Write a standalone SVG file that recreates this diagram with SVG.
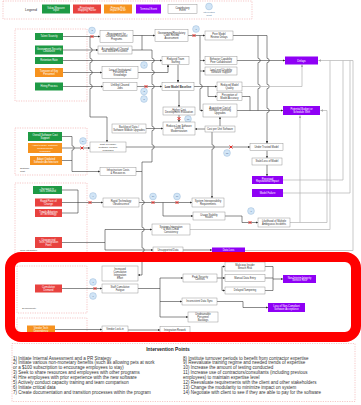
<svg xmlns="http://www.w3.org/2000/svg" xmlns:xlink="http://www.w3.org/1999/xlink" width="361" height="405" viewBox="0 0 361 405">
<style>
  .bx{fill:#fff;stroke:#8c8c8c;stroke-width:.45}
  .g{fill:#1e9a45}
  .r{fill:#e8423f}
  .o{fill:#f6921e}
  .p{fill:#8f00f5}
  .t{font-family:"Liberation Sans",Arial,sans-serif;font-size:2.6px;fill:#333;text-anchor:middle}
  .tw{font-family:"Liberation Sans",Arial,sans-serif;font-size:2.6px;fill:#fff;text-anchor:middle}
  .gl{font-family:"Liberation Sans",Arial,sans-serif;font-size:2.4px;fill:#444}
  .grp{fill:none;stroke:#f0a3a3;stroke-width:.6;stroke-dasharray:1.2 1.2}
  .ln{fill:none;stroke:#2b2b2b;stroke-width:.55}
  .lg{fill:none;stroke:#b3b3b3;stroke-width:.7}
  .a{marker-end:url(#ah)}
  .ag{marker-end:url(#ahg)}
  .ipn{font-family:"Liberation Sans",Arial,sans-serif;font-size:2.2px;fill:#44698f;text-anchor:middle}
  .it{font-family:"Liberation Sans",Arial,sans-serif;font-size:4.5px;fill:#333}
</style>
<defs>
  <marker id="ah" viewBox="0 0 6 6" refX="5.5" refY="3" markerWidth="2.6" markerHeight="2.6" markerUnits="userSpaceOnUse" orient="auto"><path d="M0,0.4L6,3L0,5.6z" fill="#2b2b2b"/></marker>
  <marker id="ahg" viewBox="0 0 6 6" refX="5.5" refY="3" markerWidth="2.8" markerHeight="2.8" markerUnits="userSpaceOnUse" orient="auto"><path d="M0,0.4L6,3L0,5.6z" fill="#a8a8a8"/></marker>
  <g id="rx"><path d="M-1.5,-1.5L1.5,1.5M1.5,-1.5L-1.5,1.5" stroke="#e3211c" stroke-width=".9" fill="none"/></g>
  <circle id="ipc" r="3.4" fill="#d2e5f6" stroke="#8db1d4" stroke-width=".4"/>
</defs>
<rect width="361" height="405" fill="#fff"/>

<!-- legend -->
<g id="legend">
  <rect class="grp" x="3" y="1" width="249" height="18"/>
  <text x="25" y="10.5" style="font-family:'Liberation Sans',Arial,sans-serif;font-size:3.6px;fill:#333">Legend</text>
  <rect class="g" x="42" y="4.5" width="28" height="9"/>
  <text class="tw"><tspan x="56" y="8.5">Value Measure</tspan><tspan x="56" y="11.3">Input</tspan></text>
  <rect class="r" x="73" y="4.5" width="28" height="9"/>
  <text class="tw"><tspan x="87" y="8.5">Prioritization</tspan><tspan x="87" y="11.3">Mapping Factor</tspan></text>
  <rect class="o" x="104" y="4.5" width="28" height="9"/>
  <text class="tw"><tspan x="118" y="8.5">Primary Risk</tspan><tspan x="118" y="11.3">Impact Factor</tspan></text>
  <rect class="p" x="136" y="4.5" width="25" height="9"/>
  <text class="tw" x="148.5" y="9.9">Terminal Event</text>
  <rect class="bx" x="168" y="4.5" width="29" height="9"/>
  <text class="t"><tspan x="182.5" y="8.5">Contributory</tspan><tspan x="182.5" y="11.3">Event</tspan></text>
  <use xlink:href="#ipc" x="209" y="6.5"/>
  <text class="ipn"><tspan x="209" y="13.4">Intervention</tspan><tspan x="209" y="15.9">Point</tspan></text>
</g>

<!-- groupings -->
<g id="groups">
  <rect class="grp" x="15" y="29" width="72" height="72"/>
  <rect class="grp" x="15" y="128" width="72" height="47"/>
  <text class="gl"><tspan x="20" y="169">Software</tspan><tspan x="20" y="171.8">Cost</tspan></text>
  <rect class="grp" x="15" y="183" width="72" height="72"/>
  <text class="gl" x="20" y="251">Tech Integration</text>
  <rect class="grp" x="17" y="266" width="70" height="47"/>
  <text class="gl" x="22" y="308.5">Synchronicity</text>
  <rect class="grp" x="17" y="318" width="70" height="20"/>
</g>

<!-- connectors -->
<g id="connectors">
  <path class="ln a" d="M63,36.5H100"/>
  <path class="ln a" d="M90,36.5V47.8A2.2 2.2 0 0 1 90,52.2V58.3A2.2 2.2 0 0 1 90,62.7V70.3A2.2 2.2 0 0 1 90,74.7V84.3A2.2 2.2 0 0 1 90,88.7V117H107V142"/>
  <path class="ln a" d="M63,50H98"/>
  <path class="ln a" d="M63,60.5H162"/>
  <path class="ln a" d="M63,72.5H102"/>
  <path class="ln a" d="M63,86.5H103"/>
  <path class="ln a" d="M133,35.5H155"/>
  <path class="ln" d="M132,50H142V35.5"/>
  <path class="ln a" d="M142,50H152V58.3A2.2 2.2 0 0 1 152,62.7V70.3A2.2 2.2 0 0 1 152,74.7V84.3A2.2 2.2 0 0 1 152,88.7V126.3A2.2 2.2 0 0 1 152,130.7V144.8A2.2 2.2 0 0 1 152,149.2V162H142V200.3A2.2 2.2 0 0 1 142,204.7V227.3A2.2 2.2 0 0 1 142,231.7V247.8A2.2 2.2 0 0 1 142,252.2V275H138"/>
  <path class="ln a" d="M138,72.5H168V64.5"/>
  <path class="ln a" d="M137,86.5H162"/>
  <path class="ln a" d="M188,35.5H205"/>
  <path class="ln a" d="M200,35.5V58.3V84.3A2.2 2.2 0 0 1 200,88.7V110.5H203"/>
  <path class="ln a" d="M200,60.5H205"/>
  <path class="ln a" d="M200,71H205"/>
  <path class="ln a" d="M178,64.5V82.5"/>
  <path class="ln a" d="M237,60.5H285"/>
  <path class="ln" d="M258,35.5V58.3A2.2 2.2 0 0 1 258,62.7V84.3A2.2 2.2 0 0 1 258,88.7V110.5"/>
  <path class="ln a" d="M233,35.5H267V58.3A2.2 2.2 0 0 1 267,62.7V84.3A2.2 2.2 0 0 1 267,88.7V108.3A2.2 2.2 0 0 1 267,112.7V143.5"/>
  <path class="ln a" d="M194,86.5H217"/>
  <path class="ln a" d="M208,86.5V96.5H217"/>
  <path class="ln" d="M242,96.5H250V110.5"/>
  <path class="lg ag" d="M242,86.5H302V64.5"/>
  <path class="ln a" d="M179,90.5V107"/>
  <path class="ln a" d="M179,115V122"/>
  <path class="ln a" d="M205,129H195"/>
  <path class="ln a" d="M220,126V117"/>
  <path class="ln a" d="M237,110.5H283"/>
  <path class="ln a" d="M146,128.5H163"/>
  <path class="ln a" d="M126,147H250"/>
  <path class="ln a" d="M212,132V144.8A2.2 2.2 0 0 1 212,149.2V198"/>
  <path class="ln a" d="M267,150.5V158"/>
  <path class="ln a" d="M267,165V176"/>
  <path class="ln a" d="M62,136.5H72V145.8A2.2 2.2 0 0 1 72,150.2V171.5H100"/>
  <path class="ln a" d="M62,148H90"/>
  <path class="ln" d="M62,160.5H72"/>
  <path class="ln" d="M136,171.5H142"/>
  <path class="ln" d="M62,190H78V202.5"/>
  <path class="ln" d="M62,213H78V202.5"/>
  <path class="ln a" d="M62,202.5H103"/>
  <path class="ln a" d="M139,202.5H192"/>
  <path class="ln a" d="M163,202.5V216H193"/>
  <path class="ln a" d="M62,242.5H105V229.5H152"/>
  <path class="ln a" d="M105,242.5V250H153"/>
  <path class="ln a" d="M183,250H212"/>
  <path class="ln a" d="M225,216H242V222.5H258"/>
  <path class="lg ag" d="M300,222.5V115.5"/>
  <path class="lg ag" d="M290,222.5H327V110.5H320.5"/>
  <path class="lg ag" d="M190,229.5H330V60.5H318.5"/>
  <path class="lg" d="M283,180H343V60.5"/>
  <path class="lg" d="M283,193H350V60.5"/>
  <path class="lg" d="M245,250.5H353V60.5H330"/>
  <path class="ln a" d="M62,288.5H102"/>
  <path class="ln" d="M138,288.5H160"/>
  <path class="ln a" d="M160,278V317H188"/>
  <path class="ln a" d="M160,278H183"/>
  <path class="ln a" d="M160,301.5H182"/>
  <path class="ln a" d="M217,278H222V266.5H225"/>
  <path class="ln a" d="M222,278H225"/>
  <path class="ln a" d="M222,278V290.5H225"/>
  <path class="ln" d="M265,266.5H273V290.5H265M265,278H273"/>
  <path class="ln a" d="M273,279H283"/>
  <path class="ln a" d="M217,301.5H243V307.5H268"/>
  <path class="ln a" d="M55,329.5H102"/>
  <path class="ln a" d="M128,330H160"/>
</g>

<!-- blocked links and intervention points -->
<g id="markers">
  <use xlink:href="#rx" x="92" y="36.5"/>
  <use xlink:href="#rx" x="194" y="35.5"/>
  <use xlink:href="#rx" x="146" y="86.5"/>
  <use xlink:href="#rx" x="179" y="118.5"/>
  <use xlink:href="#rx" x="231" y="147"/>
  <use xlink:href="#rx" x="82" y="148"/>
  <use xlink:href="#rx" x="90" y="202.5"/>
  <use xlink:href="#rx" x="153" y="202.5"/>
  <use xlink:href="#rx" x="177" y="202.5"/>
  <use xlink:href="#rx" x="250" y="222.5"/>
  <use xlink:href="#rx" x="95" y="288.5"/>
  <use xlink:href="#ipc" x="92" y="30.5"/><text class="ipn" x="92" y="31.3">2</text>
  <use xlink:href="#ipc" x="196" y="29"/><text class="ipn" x="196" y="29.8">1</text>
  <use xlink:href="#ipc" x="144" y="65"/><text class="ipn" x="144" y="65.8">4</text>
  <use xlink:href="#ipc" x="144" y="91.5"/><text class="ipn" x="144" y="92.3">3</text>
  <use xlink:href="#ipc" x="144" y="99"/><text class="ipn" x="144" y="99.8">5</text>
  <use xlink:href="#ipc" x="188" y="119"/><text class="ipn" x="188" y="119.8">12</text>
  <use xlink:href="#ipc" x="227" y="153"/><text class="ipn" x="227" y="153.8">13</text>
  <use xlink:href="#ipc" x="83" y="141"/><text class="ipn" x="83" y="141.8">14</text>
  <use xlink:href="#ipc" x="93" y="196"/><text class="ipn" x="93" y="196.8">9</text>
  <use xlink:href="#ipc" x="153" y="196.5"/><text class="ipn" x="153" y="197.3">10</text>
  <use xlink:href="#ipc" x="177" y="196.5"/><text class="ipn" x="177" y="197.3">11</text>
  <use xlink:href="#ipc" x="251" y="211"/><text class="ipn" x="251" y="211.8">8</text>
  <use xlink:href="#ipc" x="93" y="282"/><text class="ipn" x="93" y="282.8">7</text>
  <use xlink:href="#ipc" x="93" y="296"/><text class="ipn" x="93" y="296.8">6</text>
</g>

<!-- nodes -->
<g id="talent-scarcity"><rect class="g" x="35" y="33" width="28" height="7"/><text class="tw" x="49" y="37.4">Talent Scarcity</text></g>
<g id="security-clearance"><rect class="g" x="35" y="45.5" width="28" height="9"/><text class="tw"><tspan x="49" y="49.5">Government Security</tspan><tspan x="49" y="52.3">Clearance</tspan></text></g>
<g id="retention-rate"><rect class="g" x="35" y="57" width="28" height="7"/><text class="tw" x="49" y="61.4">Retention Rate</text></g>
<g id="turnover"><rect class="o" x="35" y="68" width="28" height="9"/><text class="tw"><tspan x="49" y="72">Turnover of Key</tspan><tspan x="49" y="74.8">Personnel</tspan></text></g>
<g id="hiring-process"><rect class="g" x="35" y="82.5" width="28" height="8"/><text class="tw" x="49" y="87.4">Hiring Process</text></g>

<g id="cleared-requirement"><rect class="bx" x="100" y="30.5" width="33" height="12"/><text class="t"><tspan x="116.5" y="34.6">Requirement for</tspan><tspan x="116.5" y="37.4">Cleared Personnel</tspan><tspan x="116.5" y="40.2">Programs</tspan></text></g>
<g id="accessibility"><rect class="bx" x="98" y="46" width="34" height="8"/><text class="t"><tspan x="115" y="49.5">Accessibility of Cleared</tspan><tspan x="115" y="52.3">and Skilled Personnel</tspan></text></g>
<g id="knowledge-loss"><rect class="bx" x="102" y="66.5" width="36" height="12"/><text class="t"><tspan x="120" y="70.6">Loss of Institutional</tspan><tspan x="120" y="73.4">Personnel &amp;</tspan><tspan x="120" y="76.2">Knowledge</tspan></text></g>
<g id="unfilled-jobs"><rect class="bx" x="103" y="82.5" width="34" height="8"/><text class="t"><tspan x="120" y="86">Unfilled Cleared</tspan><tspan x="120" y="88.8">Jobs</tspan></text></g>
<g id="code-review"><rect class="bx" x="155" y="29.5" width="33" height="12"/><text class="t"><tspan x="171.5" y="33.6">Government/Regulatory</tspan><tspan x="171.5" y="36.4">Code Review</tspan><tspan x="171.5" y="39.2">Assessment</tspan></text></g>
<g id="peer-model"><rect class="bx" x="205" y="31" width="28" height="9"/><text class="t"><tspan x="219" y="35">Peer Model</tspan><tspan x="219" y="37.8">Review Delays</tspan></text></g>
<g id="reduced-team"><rect class="bx" x="162" y="56.5" width="27" height="8"/><text class="t"><tspan x="175.5" y="60">Reduced Team</tspan><tspan x="175.5" y="62.8">Staffing</tspan></text></g>
<g id="behavior-capability"><rect class="bx" x="205" y="56.5" width="32" height="8"/><text class="t"><tspan x="221" y="60">Behavior Capability</tspan><tspan x="221" y="62.8">Peer Collaboration</tspan></text></g>
<g id="low-usability"><rect class="bx" x="205" y="67" width="32" height="8"/><text class="t"><tspan x="221" y="70.5">Low Level Usability</tspan><tspan x="221" y="73.3">Software Support</tspan></text></g>
<g id="low-model-baseline"><rect class="bx" x="162" y="82.5" width="32" height="8"/><text class="t" x="178" y="87.5" style="font-weight:bold;font-size:2.8px">Low Model Baseline</text></g>
<g id="reduced-quality"><rect class="bx" x="217" y="82" width="25" height="9"/><text class="t"><tspan x="229.5" y="86">Reduced Model</tspan><tspan x="229.5" y="88.8">Quality</tspan></text></g>
<g id="perception"><rect class="bx" x="217" y="92.5" width="25" height="8"/><text class="t"><tspan x="229.5" y="96">Perception of</tspan><tspan x="229.5" y="98.8">Model Accuracy</tspan></text></g>
<g id="delays"><rect class="p" x="285" y="56.5" width="33" height="8"/><text class="tw" x="301.5" y="61.5" style="font-size:2.8px">Delays</text></g>
<g id="budget-shift"><rect class="p" x="283" y="106" width="37" height="9"/><text class="tw"><tspan x="301.5" y="110">Potential Budget or</tspan><tspan x="301.5" y="112.8">Schedule Shift</tspan></text></g>
<g id="higher-cost"><rect class="bx" x="163" y="107" width="32" height="8"/><text class="t"><tspan x="179" y="110.5">Higher Cost</tspan><tspan x="179" y="113.3">Development Evaluation</tspan></text></g>
<g id="reduce-costs"><rect class="bx" x="163" y="122" width="32" height="13"/><text class="t"><tspan x="179" y="126.6">Reduce Low Software</tspan><tspan x="179" y="129.4">Costs &amp;</tspan><tspan x="179" y="132.2">Modernization</tspan></text></g>
<g id="acquisition-cost"><rect class="bx" x="203" y="104" width="34" height="13"/><text class="t"><tspan x="220" y="108.6">Acquisition Cost of</tspan><tspan x="220" y="111.4">Software Licensing</tspan><tspan x="220" y="114.2">Upgrades</tspan></text></g>
<g id="unit-cost"><rect class="bx" x="205" y="126" width="30" height="6"/><text class="t" x="220" y="129.9">Cost per Unit Software</text></g>
<g id="data-backlog"><rect class="bx" x="112" y="124" width="34" height="9"/><text class="t"><tspan x="129" y="128">Backlog of Data /</tspan><tspan x="129" y="130.8">Software Module Upgrades</tspan></text></g>
<g id="legacy-cost"><rect class="bx" x="90" y="142" width="36" height="10"/><text class="t" style="font-size:2.5px"><tspan x="108" y="145.2">Cost of Legacy</tspan><tspan x="108" y="147.9">Software Module</tspan><tspan x="108" y="150.6">Upgrades</tspan></text></g>
<g id="under-trusted"><rect class="bx" x="250" y="143.5" width="33" height="7"/><text class="t" x="266.5" y="147.9">Under Trusted Model</text></g>
<g id="stale-model"><rect class="bx" x="252" y="158" width="30" height="7"/><text class="t" x="267" y="162.4">Stale/Loss of Model</text></g>
<g id="reputation"><rect class="p" x="252" y="176" width="31" height="8"/><text class="tw"><tspan x="267.5" y="179.5">Perceived</tspan><tspan x="267.5" y="182.3">Reputational Impact</tspan></text></g>
<g id="model-failure"><rect class="p" x="252" y="189" width="31" height="8"/><text class="tw" x="267.5" y="193.9">Model Failure</text></g>

<g id="software-cost"><rect class="g" x="28" y="132" width="34" height="9"/><text class="tw"><tspan x="45" y="136">Overall Software Cost</tspan><tspan x="45" y="138.8">Support</tspan></text></g>
<g id="adapt-legacy"><rect class="o" x="28" y="143" width="34" height="10"/><text class="tw" style="font-size:2.5px"><tspan x="45" y="146.2">Adapt Legacy Software</tspan><tspan x="45" y="148.9">Requirements</tspan><tspan x="45" y="151.6">Upgrades</tspan></text></g>
<g id="adapt-outdated"><rect class="o" x="30" y="156" width="32" height="9"/><text class="tw"><tspan x="46" y="160">Adapt Outdated</tspan><tspan x="46" y="162.8">Software Architecture</tspan></text></g>
<g id="infrastructure"><rect class="bx" x="100" y="167.5" width="36" height="8"/><text class="t"><tspan x="118" y="171">Infrastructure Costs</tspan><tspan x="118" y="173.8">&amp; Resources</tspan></text></g>

<g id="tech-demand"><rect class="g" x="33" y="186" width="29" height="8"/><text class="tw"><tspan x="47.5" y="189.5">Increase in</tspan><tspan x="47.5" y="192.3">Tech. Demand</tspan></text></g>
<g id="pace-of-change"><rect class="r" x="35" y="198.5" width="27" height="8"/><text class="tw"><tspan x="48.5" y="202">Rapid Pace of</tspan><tspan x="48.5" y="204.8">Change</tspan></text></g>
<g id="timely-adoption"><rect class="r" x="35" y="209" width="27" height="8"/><text class="tw"><tspan x="48.5" y="212.5">Timely Adoption</tspan><tspan x="48.5" y="215.3">of Technology</tspan></text></g>
<g id="integration-fixes"><rect class="r" x="35" y="237" width="27" height="11"/><text class="tw"><tspan x="48.5" y="240.6">Unexpected</tspan><tspan x="48.5" y="243.4">Tech. Integration</tspan><tspan x="48.5" y="246.2">Fixes</tspan></text></g>
<g id="obsolescence"><rect class="bx" x="103" y="198" width="36" height="9"/><text class="t"><tspan x="121" y="202">Rapid Technology</tspan><tspan x="121" y="204.8">Obsolescence</tspan></text></g>
<g id="interoperability"><rect class="bx" x="192" y="198" width="32" height="9"/><text class="t"><tspan x="208" y="202">System Interoperability</tspan><tspan x="208" y="204.8">Requirements</tspan></text></g>
<g id="usage-stability"><rect class="bx" x="193" y="212" width="32" height="8"/><text class="t"><tspan x="209" y="215.5">Usage Stability</tspan><tspan x="209" y="218.3">Issues</tspan></text></g>
<g id="multi-cloud"><rect class="bx" x="152" y="224" width="38" height="11"/><text class="t"><tspan x="171" y="227.6">Systems Integration</tspan><tspan x="171" y="230.4">&amp; Multi-Cloud</tspan><tspan x="171" y="233.2">Consistency</tspan></text></g>
<g id="incident-likelihood"><rect class="bx" x="258" y="218" width="32" height="9"/><text class="t"><tspan x="274" y="222">Likelihood of Multiple</tspan><tspan x="274" y="224.8">Ambiguous Incidents</tspan></text></g>
<g id="unsupported-data"><rect class="bx" x="153" y="247" width="30" height="6"/><text class="t" x="168" y="250.9">Unsupported Data</text></g>
<g id="data-loss"><rect class="p" x="212" y="247.5" width="33" height="6"/><text class="tw" x="228.5" y="251.4">Data Loss</text></g>

<g id="cumulative-demand"><rect class="r" x="35" y="284.5" width="27" height="8"/><text class="tw"><tspan x="48.5" y="288">Cumulative</tspan><tspan x="48.5" y="290.8">Demand</tspan></text></g>
<g id="integration-effort"><rect class="bx" x="102" y="266" width="36" height="15"/><text class="t"><tspan x="120" y="270.2">Increased</tspan><tspan x="120" y="273">Cumulative</tspan><tspan x="120" y="275.8">Integration</tspan><tspan x="120" y="278.6">Effort</tspan></text></g>
<g id="staff-fatigue"><rect class="bx" x="102" y="284" width="36" height="9"/><text class="t"><tspan x="120" y="288">Staff Cumulative</tspan><tspan x="120" y="290.8">Fatigue</tspan></text></g>
<g id="security-controls"><rect class="bx" x="183" y="274" width="34" height="8"/><text class="t"><tspan x="200" y="277.5">Peak Security</tspan><tspan x="200" y="280.3">Controls</tspan></text></g>
<g id="data-sync"><rect class="bx" x="182" y="298" width="35" height="7"/><text class="t" x="199.5" y="302.4">Inconsistent Data Sync</text></g>
<g id="personnel-backlogs"><rect class="bx" x="188" y="312" width="30" height="10"/><text class="t"><tspan x="203" y="315.2">Unobtainable</tspan><tspan x="203" y="318">Personnel</tspan><tspan x="203" y="320.8">Backlogs</tspan></text></g>
<g id="integration-rework"><rect class="bx" x="160" y="326.5" width="30" height="7"/><text class="t" x="175" y="330.9">Integration Rework</text></g>
<g id="vendor-lock"><rect class="bx" x="102" y="326" width="26" height="7"/><text class="t" x="115" y="330.4">Vendor Lock-in</text></g>
<g id="vendor-dependency"><rect class="o" x="27" y="325.5" width="28" height="8"/><text class="tw"><tspan x="41" y="329">Vendor Tech</tspan><tspan x="41" y="331.8">Dependency</tspan></text></g>
<g id="insider-breach"><rect class="bx" x="225" y="262" width="40" height="9"/><text class="t"><tspan x="245" y="266">Malicious Insider</tspan><tspan x="245" y="268.8">Breach Risk</tspan></text></g>
<g id="manual-entry"><rect class="bx" x="225" y="274.5" width="40" height="7"/><text class="t" x="245" y="278.9">Manual Data Entry</text></g>
<g id="tampering"><rect class="bx" x="225" y="287" width="40" height="7"/><text class="t" x="245" y="291.4">Delayed Tampering</text></g>
<g id="service-risk"><rect class="p" x="283" y="275" width="33" height="8"/><text class="tw"><tspan x="299.5" y="278.5">Non-Interim Integrity</tspan><tspan x="299.5" y="281.3">Service Risk</tspan></text></g>
<g id="acceptance-loss"><rect class="p" x="268" y="303" width="37" height="9"/><text class="tw"><tspan x="286.5" y="307">Loss of Non-Compliant</tspan><tspan x="286.5" y="309.8">Software Acceptance</tspan></text></g>

<!-- emphasis frame -->
<rect x="10" y="257" width="346" height="80" rx="11" fill="none" stroke="#ff0000" stroke-width="10"/>

<!-- intervention point list -->
<g id="intervention-points">
  <rect class="grp" x="12" y="343.5" width="343" height="58"/>
  <text x="168" y="351" style="font-family:'Liberation Sans',Arial,sans-serif;font-size:4.8px;font-weight:bold;fill:#222;text-anchor:middle">Intervention Points</text>
  <text class="it">
    <tspan x="13" y="359.5">1) Initiate Internal Assessment and a PR Strategy</tspan>
    <tspan x="13" y="364.4">2) Initiate various non-monetary benefits (such as allowing pets at work</tspan>
    <tspan x="13" y="369.3">or a $100 subscription to encourage employees to stay)</tspan>
    <tspan x="13" y="374.2">3) Seek to share resources and employees with other programs</tspan>
    <tspan x="13" y="379.1">4) Hire employees with prior experience with the new software</tspan>
    <tspan x="13" y="384">5) Actively conduct capacity training and team comparison</tspan>
    <tspan x="13" y="388.9">6) Initiate critical data</tspan>
    <tspan x="13" y="393.8">7) Create documentation and transition processes within the program</tspan>
  </text>
  <text class="it">
    <tspan x="183" y="359.5">8) Institute turnover periods to benefit from contractor expertise</tspan>
    <tspan x="183" y="364.4">9) Reevaluate training regime and needed trends of expertise</tspan>
    <tspan x="183" y="369.3">10) Increase the amount of testing conducted</tspan>
    <tspan x="183" y="374.2">11) Increase use of contractors/consultants (including previous</tspan>
    <tspan x="183" y="379.1">employees) to maintain expertise level</tspan>
    <tspan x="183" y="384">12) Reevaluate requirements with the client and other stakeholders</tspan>
    <tspan x="183" y="388.9">13) Change the modularity to minimize impact on system</tspan>
    <tspan x="183" y="393.8">14) Negotiate with client to see if they are able to pay for the software</tspan>
  </text>
</g>
</svg>
